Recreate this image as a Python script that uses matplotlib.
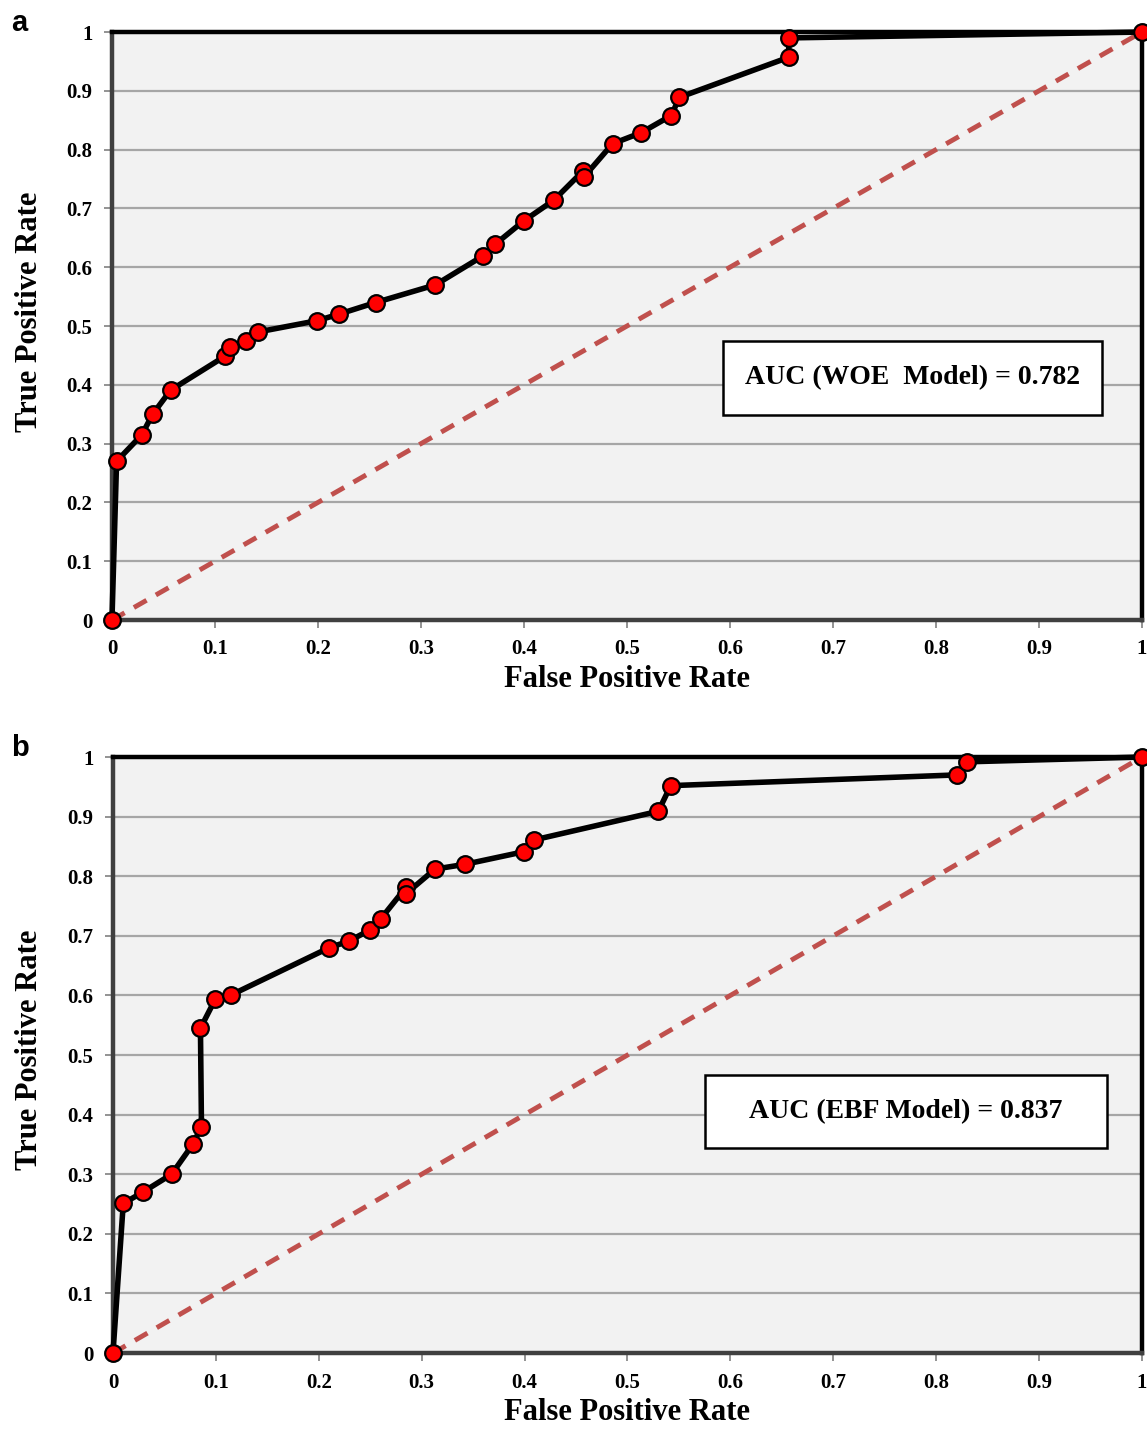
import matplotlib
matplotlib.use('Agg')
import matplotlib.pyplot as plt
from matplotlib.patches import Rectangle

# curva ROC - modelo WOE (painel a)
fpr_woe = [0, 0.0045, 0.029, 0.0395, 0.057, 0.110, 0.115, 0.130, 0.142, 0.199, 0.220,
           0.256, 0.314, 0.360, 0.372, 0.400, 0.429, 0.457, 0.458, 0.486, 0.514,
           0.543, 0.551, 0.657, 0.657, 1.0]
tpr_woe = [0, 0.270, 0.315, 0.350, 0.391, 0.449, 0.465, 0.474, 0.490, 0.509, 0.520,
           0.540, 0.570, 0.619, 0.639, 0.679, 0.714, 0.763, 0.753, 0.810, 0.829,
           0.858, 0.889, 0.957, 0.990, 1.0]

# curva ROC - modelo EBF (painel b)
fpr_ebf = [0, 0.010, 0.029, 0.057, 0.0775, 0.086, 0.085, 0.0995, 0.115, 0.210, 0.229,
           0.250, 0.260, 0.285, 0.285, 0.313, 0.342, 0.399, 0.4095, 0.530, 0.542,
           0.820, 0.830, 1.0]
tpr_ebf = [0, 0.251, 0.270, 0.300, 0.350, 0.380, 0.545, 0.594, 0.601, 0.680, 0.691,
           0.710, 0.728, 0.782, 0.771, 0.812, 0.820, 0.841, 0.861, 0.909, 0.952,
           0.970, 0.992, 1.0]

ticks = [0, 0.1, 0.2, 0.3, 0.4, 0.5, 0.6, 0.7, 0.8, 0.9, 1]
tick_labels = ['0', '0.1', '0.2', '0.3', '0.4', '0.5', '0.6', '0.7', '0.8', '0.9', '1']

paineis = [
    {'letra': 'a', 'x': fpr_woe, 'y': tpr_woe, 'auc': 'AUC (WOE  Model) = 0.782',
     'pos': [0.0976, 0.5664, 0.8980, 0.4112], 'box': (0.593, 0.349, 0.368, 0.126),
     'ylab': (-0.066, 0.525)},
    {'letra': 'b', 'x': fpr_ebf, 'y': tpr_ebf, 'auc': 'AUC (EBF Model) = 0.837',
     'pos': [0.0985, 0.0538, 0.8971, 0.4168], 'box': (0.575, 0.344, 0.391, 0.122),
     'ylab': (-0.067, 0.508)},
]

serif = ['Liberation Serif', 'DejaVu Serif']

fig = plt.figure(figsize=(11.47, 14.30), dpi=100)

for p in paineis:
    ax = fig.add_axes(p['pos'])
    ax.set_facecolor('#f2f2f2')
    ax.set_xlim(0, 1)
    ax.set_ylim(0, 1)

    for t in ticks[1:]:
        ax.axhline(t, color='#a6a6a6', lw=1.6, zorder=1)

    ax.plot([0, 1], [0, 1], color='#c0504d', lw=3.5, dashes=(3, 2.2), zorder=2)
    ax.plot(p['x'], p['y'], color='black', lw=4, zorder=3,
            marker='o', markersize=12, markerfacecolor='#ff0000',
            markeredgecolor='black', markeredgewidth=1.6, clip_on=False)

    bx, by, bw, bh = p['box']
    ax.add_patch(Rectangle((bx, by), bw, bh, facecolor='white', edgecolor='black',
                           lw=1.8, zorder=4))
    ax.text(bx + bw / 2, by + bh / 2, p['auc'], ha='center', va='center',
            fontsize=20, fontweight='bold', family=serif, zorder=5)

    ax.set_xticks(ticks)
    ax.set_yticks(ticks)
    ax.set_xticklabels(tick_labels, fontsize=15, fontweight='bold', family=serif)
    ax.set_yticklabels(tick_labels, fontsize=15, fontweight='bold', family=serif)
    ax.tick_params(length=6, width=1.2, color='#808080', pad=8)

    ax.spines['top'].set_color('black')
    ax.spines['top'].set_linewidth(3.2)
    ax.spines['right'].set_color('black')
    ax.spines['right'].set_linewidth(3.2)
    ax.spines['left'].set_color('#404040')
    ax.spines['left'].set_linewidth(3.2)
    ax.spines['bottom'].set_color('#404040')
    ax.spines['bottom'].set_linewidth(3.2)

    ax.set_xlabel('False Positive Rate', fontsize=22, fontweight='bold', family=serif,
                  labelpad=4)
    ax.set_ylabel('True Positive Rate', fontsize=22, fontweight='bold', family=serif)
    ax.yaxis.set_label_coords(*p['ylab'])

    fig.text(0.010, p['pos'][1] + p['pos'][3] + 0.006, p['letra'], fontsize=21,
             fontweight='bold', family=['Liberation Sans', 'DejaVu Sans'],
             ha='left', va='center')

fig.savefig('out.png', dpi=100)
